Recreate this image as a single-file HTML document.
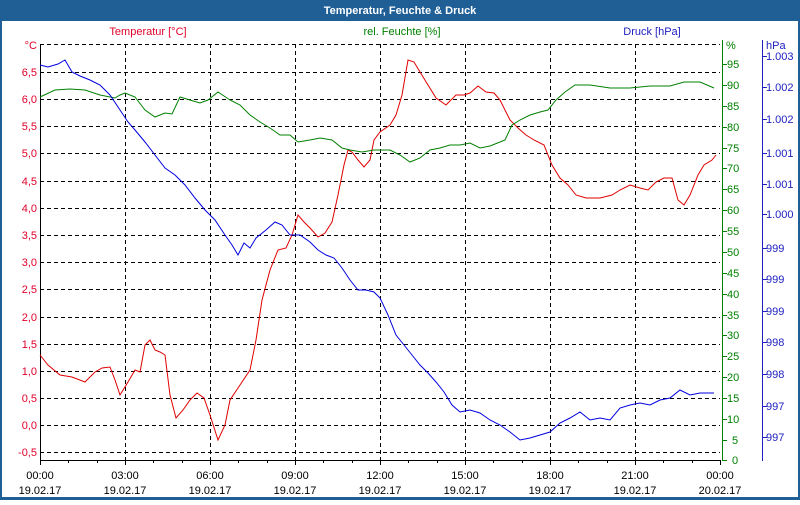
<!DOCTYPE html>
<html><head><meta charset="utf-8"><style>
body{margin:0;width:800px;height:500px;overflow:hidden;background:#fff;font-family:"Liberation Sans",sans-serif}
</style></head><body>
<svg width="800" height="500" xmlns="http://www.w3.org/2000/svg" font-family="Liberation Sans, sans-serif" font-size="11">
<rect x="0" y="0" width="800" height="500" fill="#1f5f96"/>
<rect x="2" y="21" width="796" height="476" fill="#fff"/>
<text x="400" y="14" fill="#fff" font-weight="bold" font-size="11" text-anchor="middle">Temperatur, Feuchte &amp; Druck</text>
<text x="148" y="35" fill="#e0002a" text-anchor="middle">Temperatur [°C]</text>
<text x="402" y="35" fill="#008000" text-anchor="middle">rel. Feuchte [%]</text>
<text x="652" y="35" fill="#2020c0" text-anchor="middle">Druck [hPa]</text>
<g stroke="#000" stroke-dasharray="4,3" stroke-width="1">
<line x1="40" y1="44.5" x2="720" y2="44.5"/>
<line x1="40" y1="72.5" x2="720" y2="72.5"/><line x1="40" y1="99.5" x2="720" y2="99.5"/><line x1="40" y1="126.5" x2="720" y2="126.5"/><line x1="40" y1="153.5" x2="720" y2="153.5"/><line x1="40" y1="181.5" x2="720" y2="181.5"/><line x1="40" y1="208.5" x2="720" y2="208.5"/><line x1="40" y1="235.5" x2="720" y2="235.5"/><line x1="40" y1="262.5" x2="720" y2="262.5"/><line x1="40" y1="289.5" x2="720" y2="289.5"/><line x1="40" y1="317.5" x2="720" y2="317.5"/><line x1="40" y1="344.5" x2="720" y2="344.5"/><line x1="40" y1="371.5" x2="720" y2="371.5"/><line x1="40" y1="398.5" x2="720" y2="398.5"/><line x1="40" y1="425.5" x2="720" y2="425.5"/><line x1="40" y1="452.5" x2="720" y2="452.5"/>
<line x1="125.5" y1="44" x2="125.5" y2="460"/><line x1="210.5" y1="44" x2="210.5" y2="460"/><line x1="295.5" y1="44" x2="295.5" y2="460"/><line x1="380.5" y1="44" x2="380.5" y2="460"/><line x1="465.5" y1="44" x2="465.5" y2="460"/><line x1="550.5" y1="44" x2="550.5" y2="460"/><line x1="635.5" y1="44" x2="635.5" y2="460"/>
</g>
<line x1="40.5" y1="44" x2="40.5" y2="461" stroke="#000"/>
<line x1="40" y1="460.5" x2="720" y2="460.5" stroke="#000"/>
<g stroke="#000"><line x1="40.5" y1="460" x2="40.5" y2="465"/><line x1="68.5" y1="460" x2="68.5" y2="463"/><line x1="97.5" y1="460" x2="97.5" y2="463"/><line x1="125.5" y1="460" x2="125.5" y2="465"/><line x1="153.5" y1="460" x2="153.5" y2="463"/><line x1="182.5" y1="460" x2="182.5" y2="463"/><line x1="210.5" y1="460" x2="210.5" y2="465"/><line x1="238.5" y1="460" x2="238.5" y2="463"/><line x1="267.5" y1="460" x2="267.5" y2="463"/><line x1="295.5" y1="460" x2="295.5" y2="465"/><line x1="323.5" y1="460" x2="323.5" y2="463"/><line x1="352.5" y1="460" x2="352.5" y2="463"/><line x1="380.5" y1="460" x2="380.5" y2="465"/><line x1="408.5" y1="460" x2="408.5" y2="463"/><line x1="437.5" y1="460" x2="437.5" y2="463"/><line x1="465.5" y1="460" x2="465.5" y2="465"/><line x1="493.5" y1="460" x2="493.5" y2="463"/><line x1="522.5" y1="460" x2="522.5" y2="463"/><line x1="550.5" y1="460" x2="550.5" y2="465"/><line x1="578.5" y1="460" x2="578.5" y2="463"/><line x1="607.5" y1="460" x2="607.5" y2="463"/><line x1="635.5" y1="460" x2="635.5" y2="465"/><line x1="663.5" y1="460" x2="663.5" y2="463"/><line x1="692.5" y1="460" x2="692.5" y2="463"/><line x1="720.5" y1="460" x2="720.5" y2="465"/></g>
<g fill="#e0002a" text-anchor="end">
<text x="37" y="49">°C</text><text x="37" y="76">6,5</text><text x="37" y="103">6,0</text><text x="37" y="130">5,5</text><text x="37" y="157">5,0</text><text x="37" y="185">4,5</text><text x="37" y="212">4,0</text><text x="37" y="239">3,5</text><text x="37" y="266">3,0</text><text x="37" y="293">2,5</text><text x="37" y="321">2,0</text><text x="37" y="348">1,5</text><text x="37" y="375">1,0</text><text x="37" y="402">0,5</text><text x="37" y="429">0,0</text><text x="37" y="456">-0,5</text>
</g>
<g fill="#000" text-anchor="middle">
<text x="40" y="479">00:00</text><text x="40" y="494">19.02.17</text>
<text x="125" y="479">03:00</text><text x="125" y="494">19.02.17</text>
<text x="210" y="479">06:00</text><text x="210" y="494">19.02.17</text>
<text x="295" y="479">09:00</text><text x="295" y="494">19.02.17</text>
<text x="380" y="479">12:00</text><text x="380" y="494">19.02.17</text>
<text x="465" y="479">15:00</text><text x="465" y="494">19.02.17</text>
<text x="550" y="479">18:00</text><text x="550" y="494">19.02.17</text>
<text x="635" y="479">21:00</text><text x="635" y="494">19.02.17</text>
<text x="720" y="479">00:00</text><text x="720" y="494">20.02.17</text>
</g>
<line x1="722.5" y1="40" x2="722.5" y2="461" stroke="#008000"/>
<g stroke="#008000"><line x1="722" y1="64.5" x2="727" y2="64.5"/><line x1="722" y1="85.5" x2="727" y2="85.5"/><line x1="722" y1="106.5" x2="727" y2="106.5"/><line x1="722" y1="127.5" x2="727" y2="127.5"/><line x1="722" y1="148.5" x2="727" y2="148.5"/><line x1="722" y1="168.5" x2="727" y2="168.5"/><line x1="722" y1="189.5" x2="727" y2="189.5"/><line x1="722" y1="210.5" x2="727" y2="210.5"/><line x1="722" y1="231.5" x2="727" y2="231.5"/><line x1="722" y1="252.5" x2="727" y2="252.5"/><line x1="722" y1="273.5" x2="727" y2="273.5"/><line x1="722" y1="294.5" x2="727" y2="294.5"/><line x1="722" y1="315.5" x2="727" y2="315.5"/><line x1="722" y1="335.5" x2="727" y2="335.5"/><line x1="722" y1="356.5" x2="727" y2="356.5"/><line x1="722" y1="377.5" x2="727" y2="377.5"/><line x1="722" y1="398.5" x2="727" y2="398.5"/><line x1="722" y1="419.5" x2="727" y2="419.5"/><line x1="722" y1="440.5" x2="727" y2="440.5"/><line x1="722" y1="460.5" x2="727" y2="460.5"/></g>
<g fill="#008000">
<text x="726" y="49">%</text><text x="727" y="68">95</text><text x="727" y="89">90</text><text x="727" y="110">85</text><text x="727" y="131">80</text><text x="727" y="152">75</text><text x="727" y="172">70</text><text x="727" y="193">65</text><text x="727" y="214">60</text><text x="727" y="235">55</text><text x="727" y="256">50</text><text x="727" y="277">45</text><text x="727" y="298">40</text><text x="727" y="319">35</text><text x="727" y="339">30</text><text x="727" y="360">25</text><text x="727" y="381">20</text><text x="727" y="402">15</text><text x="727" y="423">10</text><text x="732" y="444">5</text><text x="732" y="464">0</text>
</g>
<line x1="762.5" y1="40" x2="762.5" y2="461" stroke="#2020c0"/>
<g stroke="#2020c0"><line x1="762" y1="56.5" x2="767" y2="56.5"/><line x1="762" y1="87.5" x2="767" y2="87.5"/><line x1="762" y1="119.5" x2="767" y2="119.5"/><line x1="762" y1="153.5" x2="767" y2="153.5"/><line x1="762" y1="184.5" x2="767" y2="184.5"/><line x1="762" y1="214.5" x2="767" y2="214.5"/><line x1="762" y1="248.5" x2="767" y2="248.5"/><line x1="762" y1="279.5" x2="767" y2="279.5"/><line x1="762" y1="311.5" x2="767" y2="311.5"/><line x1="762" y1="342.5" x2="767" y2="342.5"/><line x1="762" y1="374.5" x2="767" y2="374.5"/><line x1="762" y1="406.5" x2="767" y2="406.5"/><line x1="762" y1="437.5" x2="767" y2="437.5"/></g>
<g fill="#2020c0">
<text x="766" y="49">hPa</text><text x="766" y="60">1.003</text><text x="766" y="91">1.002</text><text x="766" y="123">1.002</text><text x="766" y="157">1.001</text><text x="766" y="188">1.001</text><text x="766" y="218">1.000</text><text x="766" y="252">999</text><text x="766" y="283">999</text><text x="766" y="315">999</text><text x="766" y="346">998</text><text x="766" y="378">998</text><text x="766" y="410">997</text><text x="766" y="441">997</text>
</g>
<polyline fill="none" stroke="#e00000" stroke-width="1" points="40,355 48,365 60,375 72,377 85,382 95,372 102,368 110,367 115,380 120,395 128,382 135,370 140,372 145,345 150,340 155,350 160,352 165,355 170,395 176,418 183,410 190,400 197,393 204,398 210,415 218,440 225,425 230,400 240,385 250,370 256,340 262,300 270,270 278,250 286,248 292,235 298,215 304,222 310,228 318,237 325,233 332,222 338,195 344,165 348,150 352,152 358,160 364,167 370,160 374,140 380,132 390,125 396,115 402,95 408,60 414,62 420,72 428,85 436,98 446,105 456,95 464,95 470,93 478,86 486,92 494,93 500,100 510,120 518,128 526,135 534,140 544,145 552,165 560,178 568,185 576,195 586,198 600,198 612,195 620,190 630,185 640,188 648,190 656,182 664,178 672,178 678,200 684,205 690,195 698,175 704,165 712,160 716,155"/>
<polyline fill="none" stroke="#008000" stroke-width="1" points="40,97 55,90 70,89 85,90 100,95 115,98 120,95 125,93 135,97 145,110 155,117 165,113 172,114 180,97 190,100 200,103 208,100 218,92 230,100 240,105 250,115 260,122 270,128 280,135 290,135 298,142 310,140 320,138 332,140 342,148 350,150 362,152 374,150 390,150 400,155 410,162 420,158 430,150 440,148 450,145 460,145 470,143 480,148 490,146 500,142 505,140 512,125 520,120 530,115 540,112 548,110 556,100 565,92 575,85 590,85 610,88 630,88 650,86 670,86 684,82 700,82 714,88"/>
<polyline fill="none" stroke="#0000e0" stroke-width="1" points="40,65 48,67 58,64 65,60 72,72 80,76 90,80 100,85 110,95 120,110 128,122 135,130 145,142 155,155 165,168 175,175 185,185 195,198 205,210 215,220 225,235 232,245 238,255 244,243 250,248 256,238 266,230 275,222 282,225 290,235 300,235 310,242 318,250 326,255 334,258 342,268 350,280 358,290 366,290 374,292 380,298 388,315 396,335 404,345 412,355 420,365 428,373 436,382 444,392 452,405 460,412 470,410 480,413 490,420 500,425 510,432 520,440 530,438 540,435 550,432 560,423 570,418 580,412 590,420 600,418 610,420 620,408 630,405 640,403 650,405 660,400 670,398 680,390 690,395 700,393 714,393"/>
</svg>
</body></html>
